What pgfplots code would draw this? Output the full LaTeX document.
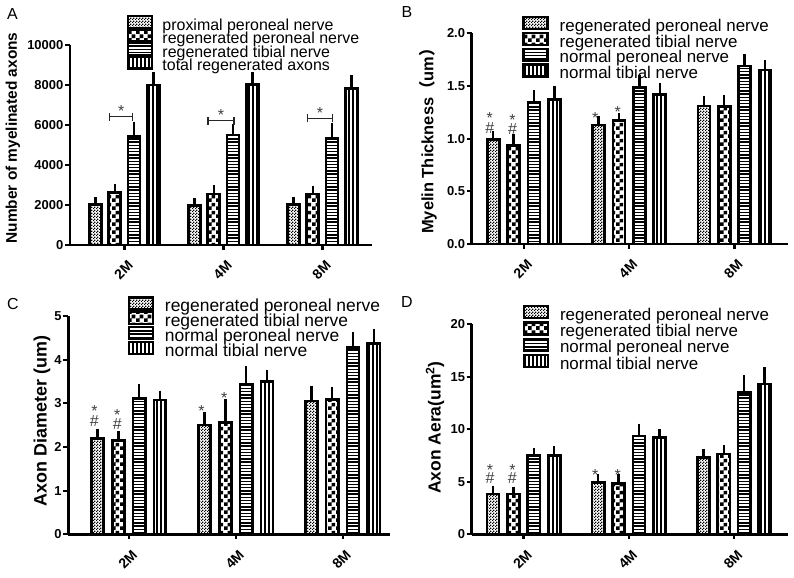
\documentclass[border=0pt]{standalone}
\usepackage{fontspec}
\setmainfont{Liberation Sans}
\newfontfamily\cjk{Noto Sans CJK SC}
\usepackage{pgfplots}
\pgfplotsset{compat=1.18}
\usetikzlibrary{patterns}

\pgfdeclarepatternformonly{fcheck}{\pgfqpoint{0bp}{0bp}}{\pgfqpoint{3bp}{3bp}}{\pgfqpoint{3bp}{3bp}}{%
\pgfpathrectangle{\pgfqpoint{0bp}{0bp}}{\pgfqpoint{1.5bp}{1.5bp}}%
\pgfpathrectangle{\pgfqpoint{1.5bp}{1.5bp}}{\pgfqpoint{1.5bp}{1.5bp}}%
\pgfusepath{fill}}
\pgfdeclarepatternformonly{ccheck}{\pgfqpoint{0bp}{0bp}}{\pgfqpoint{8bp}{8bp}}{\pgfqpoint{8bp}{8bp}}{%
\pgfpathrectangle{\pgfqpoint{0bp}{0bp}}{\pgfqpoint{4bp}{4bp}}%
\pgfpathrectangle{\pgfqpoint{4bp}{4bp}}{\pgfqpoint{4bp}{4bp}}%
\pgfusepath{fill}}
\pgfdeclarepatternformonly{hlin}{\pgfqpoint{-0.2bp}{-0.2bp}}{\pgfqpoint{3.4bp}{3.4bp}}{\pgfqpoint{3.2bp}{3.2bp}}{%
\pgfpathrectangle{\pgfqpoint{-0.2bp}{0bp}}{\pgfqpoint{3.6bp}{1.4bp}}\pgfusepath{fill}}
\pgfdeclarepatternformonly{vlin}{\pgfqpoint{-0.2bp}{-0.2bp}}{\pgfqpoint{4.2bp}{4.2bp}}{\pgfqpoint{4bp}{4bp}}{%
\pgfpathrectangle{\pgfqpoint{0bp}{-0.2bp}}{\pgfqpoint{1.9bp}{4.4bp}}\pgfusepath{fill}}

\tikzset{anno/.style={font=\fontsize{16}{16}\selectfont, text=black!75, inner sep=0pt},
  brk/.style={line width=1.6bp, black!85}}
\pgfplotsset{
  barleg/.style={legend image code/.code={\draw[##1,line width=2.4bp] (0bp,-2bp) rectangle (24bp,10bp);}},
  prism/.style={
    scale only axis, anchor=south west,
    axis x line*=bottom, axis y line*=left,
    axis line style={line width=2.6bp, black},
    tick style={line width=2.2bp, black},
    major tick length=5bp, tick align=outside,
    ymin=0, clip=false, enlargelimits=false,
    xtick={0,1,2}, xticklabels={2M,4M,8M},
    xticklabel style={xshift=-1bp, yshift=-20bp, rotate=45, anchor=center,
      font=\bfseries\fontsize{14}{14}\selectfont},
    yticklabel style={font=\bfseries\fontsize{13}{13}\selectfont, inner sep=1.5bp},
    /pgf/number format/assume math mode=true,
    scaled y ticks=false,
    every axis plot/.append style={draw=black, line width=2.6bp},
    error bars/y dir=plus, error bars/y explicit,
    error bars/error bar style={line width=2.4bp, draw=black, solid},
    error bars/error mark options={mark size=4.5bp, line width=2.4bp, black, solid},
    legend cell align=left,
    legend style={draw=none, fill=none, inner sep=0pt, outer sep=0pt, anchor=north west,
      nodes={inner sep=0pt, text height=11bp, text depth=3bp},
      /tikz/every odd column/.append style={column sep=11bp}},
  },
}

\begin{document}
\begin{tikzpicture}
\useasboundingbox (0,0) rectangle (794bp,578bp);
\node[font=\fontsize{16}{16}\selectfont] at (12.5bp,564bp) {A};
\node[font=\fontsize{16}{16}\selectfont] at (407bp,566bp) {B};
\node[font=\fontsize{16}{16}\selectfont] at (13bp,274bp) {C};
\node[font=\fontsize{16}{16}\selectfont] at (407bp,276bp) {D};

% ---------------- A ----------------
\begin{axis}[prism, at={(70bp,333bp)}, width=302bp, height=200bp,
  xmin=-0.55, xmax=2.5, ymax=10000, ytick={0,2000,4000,6000,8000,10000},
  yticklabel style={/pgf/number format/1000 sep={}},
  ybar=7.4bp, bar width=12bp,
  ylabel={Number of myelinated axons},
  every axis y label/.style={at={(rel axis cs:0,0.5)}, xshift=-57bp, yshift=7bp, rotate=90, anchor=center,
    font=\bfseries\fontsize{15.5}{15.5}\selectfont},
  legend style={at={(0.189,1.15)}, row sep=-4.7bp, font=\fontsize{16}{16}\selectfont,
    /tikz/every odd column/.append style={column sep=9bp}}]
\addplot[pattern=fcheck, barleg] coordinates {(0,2030) +- (0,120) (1,1980) +- (0,130) (2,2030) +- (0,120)};
\addplot[pattern=ccheck, barleg] coordinates {(0,2620) +- (0,210) (1,2550) +- (0,200) (2,2540) +- (0,180)};
\addplot[pattern=hlin, barleg] coordinates {(0,5420) +- (0,500) (1,5500) +- (0,330) (2,5340) +- (0,550)};
\addplot[pattern=vlin, barleg] coordinates {(0,8000) +- (0,420) (1,8030) +- (0,380) (2,7830) +- (0,420)};
\legend{proximal peroneal nerve, regenerated peroneal nerve, regenerated tibial nerve, total regenerated axons}
\draw[brk] (axis cs:-0.15,6420) -- (axis cs:0.083,6420);
\draw[brk] ([yshift=-4bp]axis cs:-0.15,6420) -- ([yshift=4bp]axis cs:-0.15,6420);
\draw[brk] ([yshift=-4bp]axis cs:0.083,6420) -- ([yshift=4bp]axis cs:0.083,6420);
\node[anno] at (axis cs:-0.033,6720) {*};
\draw[brk] (axis cs:0.845,6220) -- (axis cs:1.104,6220);
\draw[brk] ([yshift=-4bp]axis cs:0.845,6220) -- ([yshift=4bp]axis cs:0.845,6220);
\draw[brk] ([yshift=-4bp]axis cs:1.104,6220) -- ([yshift=4bp]axis cs:1.104,6220);
\node[anno] at (axis cs:0.975,6520) {*};
\draw[brk] (axis cs:1.85,6330) -- (axis cs:2.10,6330);
\draw[brk] ([yshift=-4bp]axis cs:1.85,6330) -- ([yshift=4bp]axis cs:1.85,6330);
\draw[brk] ([yshift=-4bp]axis cs:2.10,6330) -- ([yshift=4bp]axis cs:2.10,6330);
\node[anno] at (axis cs:1.975,6610) {*};
\end{axis}

% ---------------- B ----------------
\begin{axis}[prism, at={(471.7bp,334bp)}, width=316.4bp, height=210.7bp,
  xmin=-0.495, xmax=2.51, ymax=2, ytick={0,0.5,1,1.5,2},
  yticklabel style={/pgf/number format/.cd, fixed, fixed zerofill, precision=1},
  ybar=8.4bp, bar width=12bp,
  ylabel={Myelin Thickness{\cjk （}um{\cjk ）}},
  every axis y label/.style={at={(rel axis cs:0,0.5)}, xshift=-43.7bp, yshift=1.7bp, rotate=90, anchor=center,
    font=\bfseries\fontsize{16.5}{16.5}\selectfont},
  legend style={at={(0.160,1.082)}, row sep=-2.4bp, font=\fontsize{17}{17}\selectfont}]
\addplot[pattern=fcheck, barleg] coordinates {(0,0.99) +- (0,0.04) (1,1.13) +- (0,0.04) (2,1.31) +- (0,0.05)};
\addplot[pattern=ccheck, barleg] coordinates {(0,0.935) +- (0,0.065) (1,1.17) +- (0,0.035) (2,1.305) +- (0,0.07)};
\addplot[pattern=hlin, barleg] coordinates {(0,1.345) +- (0,0.07) (1,1.485) +- (0,0.08) (2,1.69) +- (0,0.07)};
\addplot[pattern=vlin, barleg] coordinates {(0,1.37) +- (0,0.09) (1,1.42) +- (0,0.065) (2,1.65) +- (0,0.05)};
\legend{regenerated peroneal nerve, regenerated tibial nerve, normal peroneal nerve, normal tibial nerve}
\node[anno, yshift=-3bp] at (axis cs:-0.323,1.226) {*};
\node[anno] at (axis cs:-0.323,1.10) {\#};
\node[anno, yshift=-3bp] at (axis cs:-0.108,1.21) {*};
\node[anno] at (axis cs:-0.108,1.09) {\#};
\node[anno, yshift=-3bp] at (axis cs:0.677,1.226) {*};
\node[anno, yshift=-3bp] at (axis cs:0.892,1.28) {*};
\end{axis}

% ---------------- C ----------------
\begin{axis}[prism, at={(68.3bp,43.7bp)}, width=322bp, height=218.3bp,
  xmin=-0.565, xmax=2.445, ymax=5, ytick={0,1,2,3,4,5},
  ybar=8.6bp, bar width=12.2bp,
  ylabel={Axon Diameter (um)},
  every axis y label/.style={at={(rel axis cs:0,0.5)}, xshift=-26.3bp, yshift=4bp, rotate=90, anchor=center,
    font=\bfseries\fontsize{18}{18}\selectfont},
  legend style={at={(0.184,1.091)}, row sep=-3.3bp, font=\fontsize{17.5}{17.5}\selectfont}]
\addplot[pattern=fcheck, barleg] coordinates {(0,2.20) +- (0,0.11) (1,2.50) +- (0,0.19) (2,3.05) +- (0,0.25)};
\addplot[pattern=ccheck, barleg] coordinates {(0,2.145) +- (0,0.115) (1,2.555) +- (0,0.445) (2,3.09) +- (0,0.175)};
\addplot[pattern=hlin, barleg] coordinates {(0,3.115) +- (0,0.225) (1,3.445) +- (0,0.315) (2,4.28) +- (0,0.245)};
\addplot[pattern=vlin, barleg] coordinates {(0,3.075) +- (0,0.115) (1,3.495) +- (0,0.165) (2,4.375) +- (0,0.23)};
\legend{regenerated peroneal nerve, regenerated tibial nerve, normal peroneal nerve, normal tibial nerve}
\node[anno, yshift=-3bp] at (axis cs:-0.321,2.89) {*};
\node[anno] at (axis cs:-0.321,2.60) {\#};
\node[anno, yshift=-3bp] at (axis cs:-0.107,2.79) {*};
\node[anno] at (axis cs:-0.107,2.52) {\#};
\node[anno, yshift=-3bp] at (axis cs:0.679,2.89) {*};
\node[anno, yshift=-3bp] at (axis cs:0.893,3.19) {*};
\end{axis}

% ---------------- D ----------------
\begin{axis}[prism, at={(471.7bp,43.7bp)}, width=316.3bp, height=210bp,
  xmin=-0.493, xmax=2.513, ymax=20, ytick={0,5,10,15,20},
  ybar=8.1bp, bar width=12.3bp,
  ylabel={Axon Aera(um\textsuperscript{2})},
  every axis y label/.style={at={(rel axis cs:0,0.5)}, xshift=-36.7bp, yshift=1.8bp, rotate=90, anchor=center,
    font=\bfseries\fontsize{17.5}{17.5}\selectfont},
  legend style={at={(0.161,1.0915)}, row sep=-1.9bp, font=\fontsize{17}{17}\selectfont}]
\addplot[pattern=fcheck, barleg] coordinates {(0,3.84) +- (0,0.29) (1,4.95) +- (0,0.32) (2,7.30) +- (0,0.41)};
\addplot[pattern=ccheck, barleg] coordinates {(0,3.84) +- (0,0.22) (1,4.86) +- (0,0.47) (2,7.65) +- (0,0.45)};
\addplot[pattern=hlin, barleg] coordinates {(0,7.49) +- (0,0.29) (1,9.37) +- (0,0.73) (2,13.52) +- (0,1.18)};
\addplot[pattern=vlin, barleg] coordinates {(0,7.49) +- (0,0.48) (1,9.21) +- (0,0.41) (2,14.32) +- (0,1.17)};
\legend{regenerated peroneal nerve, regenerated tibial nerve, normal peroneal nerve, normal tibial nerve}
\node[anno, yshift=-3bp] at (axis cs:-0.319,6.44) {*};
\node[anno] at (axis cs:-0.319,5.33) {\#};
\node[anno, yshift=-3bp] at (axis cs:-0.106,6.44) {*};
\node[anno] at (axis cs:-0.106,5.33) {\#};
\node[anno, yshift=-3bp] at (axis cs:0.681,5.97) {*};
\node[anno, yshift=-3bp] at (axis cs:0.894,5.90) {*};
\end{axis}
\end{tikzpicture}
\end{document}
